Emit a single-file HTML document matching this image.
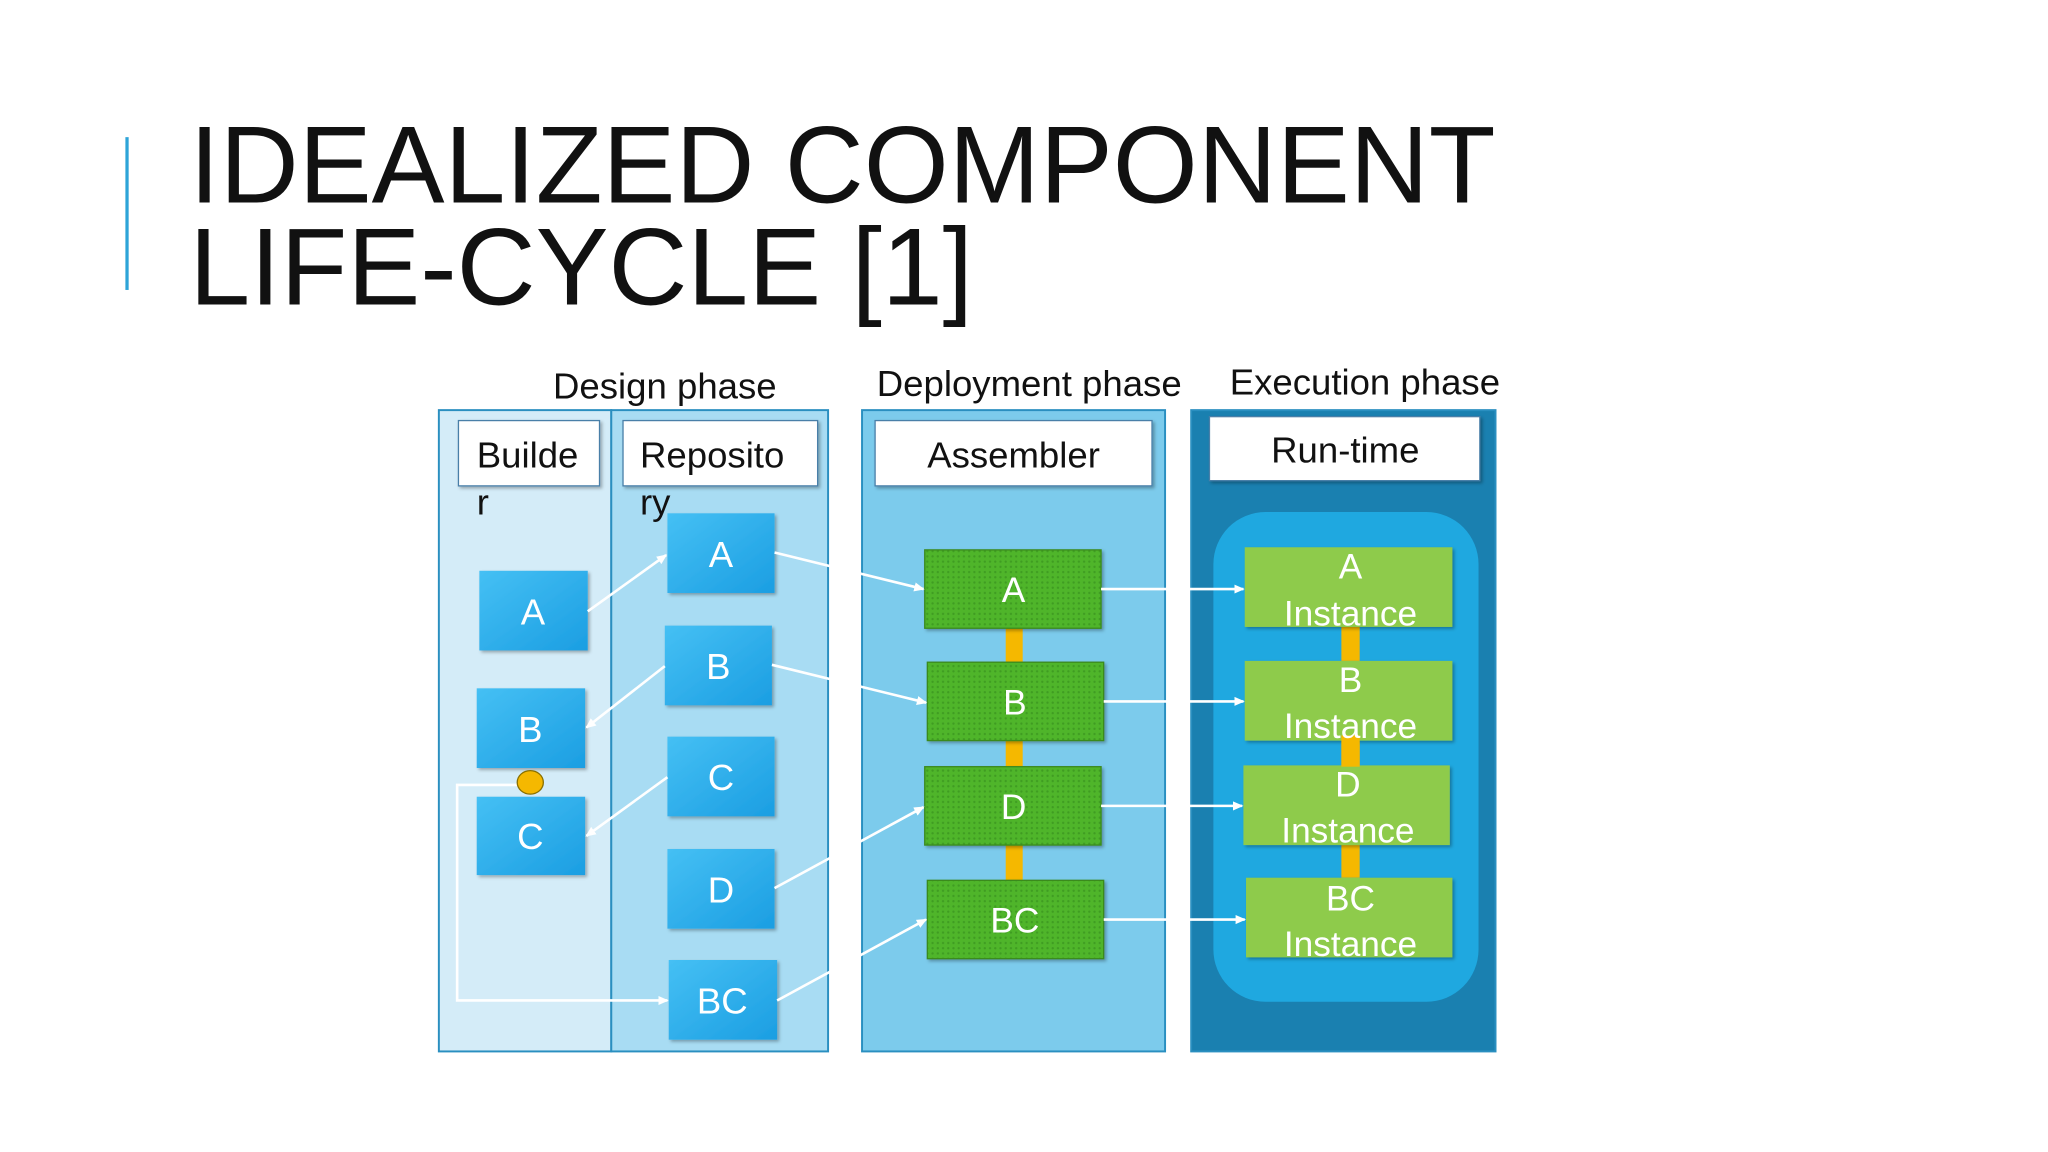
<!DOCTYPE html>
<html><head><meta charset="utf-8"><style>
html,body{margin:0;padding:0;background:#fff;}
svg{display:block;}
text{font-family:"Liberation Sans",Arial,sans-serif;}
</style></head><body>
<svg width="2048" height="1152" viewBox="0 0 1568 882" xmlns="http://www.w3.org/2000/svg">
<defs>
<linearGradient id="bl" x1="0" y1="0" x2="1" y2="1">
<stop offset="0" stop-color="#45c0f4"/><stop offset="1" stop-color="#1b9ee2"/></linearGradient>
<pattern id="dots" width="4" height="4" patternUnits="userSpaceOnUse">
<rect width="4" height="4" fill="#4fb52c"/><circle cx="2" cy="2" r="0.9" fill="#3f9c22"/></pattern>
<marker id="ar" markerWidth="8" markerHeight="8" refX="7" refY="4" orient="auto" markerUnits="userSpaceOnUse">
<path d="M0,0.5 L8,4 L0,7.5 Z" fill="#fff"/></marker>
<filter id="sh" x="-10%" y="-10%" width="130%" height="130%"><feDropShadow dx="1.5" dy="1.5" stdDeviation="1.2" flood-color="#000" flood-opacity="0.3"/></filter>
</defs>
<rect width="1568" height="882" fill="#fff"/>
<rect x="96" y="105" width="2.5" height="117" fill="#2ea4d8"/>
<text x="145" y="155" font-size="84" fill="#111" textLength="1000" lengthAdjust="spacingAndGlyphs">IDEALIZED COMPONENT</text>
<text x="145" y="233" font-size="84" fill="#111" textLength="600" lengthAdjust="spacingAndGlyphs">LIFE-CYCLE [1]</text>

<text x="509" y="305" font-size="28" fill="#111" text-anchor="middle">Design phase</text>
<text x="788" y="303" font-size="28" fill="#111" text-anchor="middle">Deployment phase</text>
<text x="1045" y="302" font-size="28" fill="#111" text-anchor="middle">Execution phase</text>

<rect x="336" y="314" width="132" height="491" fill="#d4ecf8" stroke="#2a8fc0" stroke-width="1.5"/>
<rect x="468" y="314" width="166" height="491" fill="#a8dcf3" stroke="#2a8fc0" stroke-width="1.5"/>
<rect x="660" y="314" width="232" height="491" fill="#7ccbec" stroke="#2a8fc0" stroke-width="1.5"/>
<rect x="912" y="314" width="233" height="491" fill="#1a80b0" stroke="#2a8fc0" stroke-width="1.5"/>
<rect x="929" y="392" width="203" height="375" rx="40" fill="#1fa8e0"/>

<g filter="url(#sh)" fill="#fff" stroke="#4a7fa8" stroke-width="1">
<rect x="351" y="322" width="108" height="50"/>
<rect x="477" y="322" width="149" height="50"/>
<rect x="670" y="322" width="212" height="50"/>
<rect x="926" y="319" width="207" height="49"/>
</g>
<g font-size="28" fill="#111">
<text x="365" y="358">Builde</text><text x="365" y="394">r</text>
<text x="490" y="358">Reposito</text><text x="490" y="394">ry</text>
<text x="776" y="358" text-anchor="middle">Assembler</text>
<text x="1030" y="354" text-anchor="middle">Run-time</text>
</g>

<g filter="url(#sh)" fill="url(#bl)">
<rect x="367" y="437" width="83" height="61"/>
<rect x="365" y="527" width="83" height="61"/>
<rect x="365" y="610" width="83" height="60"/>
<rect x="511" y="393" width="82" height="61"/>
<rect x="509" y="479" width="82" height="61"/>
<rect x="511" y="564" width="82" height="61"/>
<rect x="511" y="650" width="82" height="61"/>
<rect x="512" y="735" width="83" height="61"/>
</g>
<g font-size="28" fill="#fff" text-anchor="middle">
<text x="408" y="478">A</text><text x="406" y="568">B</text><text x="406" y="650">C</text>
<text x="552" y="434">A</text><text x="550" y="520">B</text><text x="552" y="605">C</text>
<text x="552" y="691">D</text><text x="553" y="776">BC</text>
</g>

<g fill="#f5b800">
<rect x="770" y="481" width="13" height="26"/><rect x="770" y="567" width="13" height="20"/><rect x="770" y="647" width="13" height="27"/>
<rect x="1027" y="480" width="14" height="26"/><rect x="1027" y="565" width="14" height="22"/><rect x="1027" y="647" width="14" height="25"/>
</g>
<g filter="url(#sh)" stroke="#3a8a1e" stroke-width="1">
<rect x="708" y="421" width="135" height="60" fill="url(#dots)"/>
<rect x="710" y="507" width="135" height="60" fill="url(#dots)"/>
<rect x="708" y="587" width="135" height="60" fill="url(#dots)"/>
<rect x="710" y="674" width="135" height="60" fill="url(#dots)"/>
</g>
<g filter="url(#sh)" fill="#8ecb4c">
<rect x="953" y="419" width="159" height="61"/>
<rect x="953" y="506" width="159" height="61"/>
<rect x="952" y="586" width="158" height="61"/>
<rect x="954" y="672" width="158" height="61"/>
</g>
<g fill="#f5b800"><rect x="1027" y="563" width="14" height="24"/></g>
<g font-size="27" fill="#fff" text-anchor="middle">
<text x="776" y="461">A</text><text x="777" y="547">B</text><text x="776" y="627">D</text><text x="777" y="714">BC</text>
<text x="1034" y="443">A</text><text x="1034" y="479">Instance</text>
<text x="1034" y="530">B</text><text x="1034" y="565">Instance</text>
<text x="1032" y="610">D</text><text x="1032" y="645">Instance</text>
<text x="1034" y="697">BC</text><text x="1034" y="732">Instance</text>
</g>

<g stroke="#fff" stroke-width="2" fill="none" marker-end="url(#ar)">
<line x1="450" y1="468" x2="510" y2="425"/>
<line x1="509" y1="510" x2="449" y2="557"/>
<line x1="511" y1="595" x2="449" y2="640"/>
<line x1="593" y1="423" x2="707" y2="451"/>
<line x1="591" y1="509" x2="709" y2="538"/>
<line x1="593" y1="680" x2="707" y2="618"/>
<line x1="595" y1="766" x2="709" y2="704"/>
<line x1="843" y1="451" x2="952" y2="451"/>
<line x1="845" y1="537" x2="952" y2="537"/>
<line x1="843" y1="617" x2="951" y2="617"/>
<line x1="845" y1="704" x2="953" y2="704"/>
<polyline points="398,601 350,601 350,766 511,766"/>
</g>
<ellipse cx="406" cy="599" rx="10" ry="9" fill="#f5b800" stroke="#8a7000" stroke-width="1"/>
</svg>
</body></html>
